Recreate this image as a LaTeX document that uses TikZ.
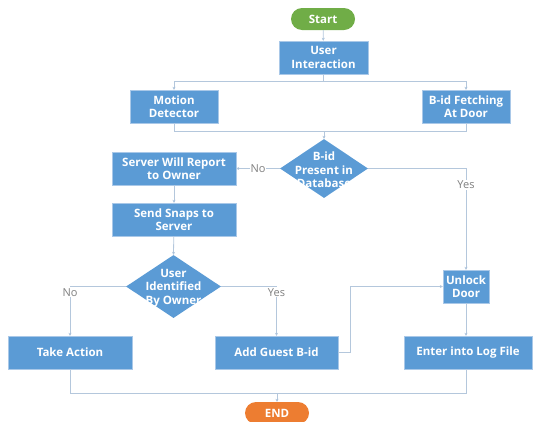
\documentclass[tikz,border=0pt]{standalone}
\usepackage{fontspec}
\setmainfont{Open Sans}
\usepackage{xcolor}
\usepackage{tikz}
\usetikzlibrary{positioning}
\usetikzlibrary{shapes.geometric}
\usetikzlibrary{arrows.meta}

\definecolor{boxblue}{HTML}{5B9BD5}
\definecolor{boxedge}{HTML}{A9C8E8}
\definecolor{startgreen}{HTML}{70AD47}
\definecolor{endorange}{HTML}{ED7D31}
\definecolor{linkgray}{HTML}{B4C7DC}
\definecolor{labelgray}{HTML}{7F7F7F}

\tikzset{
  procbox/.style={rectangle, draw=boxedge, fill=boxblue, text=white, font=\fontsize{11.5}{13.5}\selectfont\bfseries, align=center, inner sep=0pt, minimum height=33pt},
  decbox/.style={diamond, fill=boxblue, inner sep=0pt},
  dectext/.style={text=white, font=\fontsize{11.5}{13.5}\selectfont\bfseries, align=center},
  termbox/.style={rectangle, rounded corners=11pt, text=white, font=\fontsize{11.5}{13.5}\selectfont\bfseries, minimum width=64pt, minimum height=22pt, inner sep=0pt},
  link/.style={draw=linkgray, line width=0.8pt},
  arrow/.style={link, -{Stealth[length=3pt,width=3pt,fill=boxblue]}},
  yesno/.style={fill=white, text=labelgray, font=\fontsize{11}{13}\selectfont, inner sep=1pt}
}

\begin{document}
\begin{tikzpicture}[x=1pt, y=-1pt]
  \useasboundingbox (0,0) rectangle (534,421);

  \node[termbox, fill=startgreen] (start) at (323,19) {Start};
  \node[procbox, minimum width=89pt] (ui) at (323.5,57.5) {User\\Interaction};
  \node[procbox, minimum width=88pt] (md) at (174,106.5) {Motion\\Detector};
  \node[procbox, minimum width=88pt] (bf) at (466,106.5) {B-id Fetching\\At Door};

  \node[decbox, minimum width=88pt, minimum height=59pt] (dbq) at (324,168.5) {};
  \node[dectext] (dbqtext) at (324,170) {B-id\\Present in\\Database};

  \node[procbox, minimum width=124pt] (srv) at (174,168.5) {Server Will Report\\to Owner};
  \node[procbox, minimum width=124pt] (snd) at (174,219.5) {Send Snaps to\\Server};

  \node[decbox, minimum width=95pt, minimum height=63pt] (uq) at (173.5,286.5) {};
  \node[dectext] (uqtext) at (173.5,288) {User\\Identified\\By Owner};

  \node[procbox, minimum width=124pt] (act) at (70,352.5) {Take Action};
  \node[procbox, minimum width=123pt] (add) at (276.5,352.5) {Add Guest B-id};
  \node[procbox, minimum width=46pt] (ud) at (466,286.5) {Unlock\\Door};
  \node[procbox, minimum width=128pt] (log) at (468,352.5) {Enter into Log File};

  \node[termbox, fill=endorange] (end) at (277,413) {END};

  \coordinate (jtop) at (323.5,81);
  \coordinate (jmid) at (324,131);
  \coordinate (jbot) at (277,393);

  % top part
  \draw[arrow] (start) -- (ui);
  \draw[link] (ui.south) -- (jtop);
  \draw[arrow] (jtop) -| (md.north);
  \draw[arrow] (jtop) -| (bf.north);
  \draw[link] (md.south) |- (jmid);
  \draw[link] (bf.south) |- (jmid);
  \draw[arrow] (jmid) -- (dbq.north);

  % database check
  \draw[arrow] (dbq.west) -- node[yesno] {No} (srv.east);
  \draw[arrow] (dbq.east) -| node[yesno, pos=0.58] {Yes} (ud.north);
  \draw[arrow] (srv) -- (snd);
  \draw[arrow] (snd) -- (uq.north);

  % owner check
  \draw[arrow] (uq.west) -| node[yesno, pos=0.56] {No} (act.north);
  \draw[arrow] (uq.east) -| node[yesno, pos=0.56] {Yes} (add.north);
  \draw[arrow] (add.east) -- ++(12,0) |- (ud.west);
  \draw[arrow] (ud.south) -- (ud.south |- log.north);

  % end
  \draw[link] (act.south) |- (jbot);
  \draw[link] (log.south -| ud.south) |- (jbot);
  \draw[arrow] (jbot) -- (end.north);
\end{tikzpicture}
\end{document}
